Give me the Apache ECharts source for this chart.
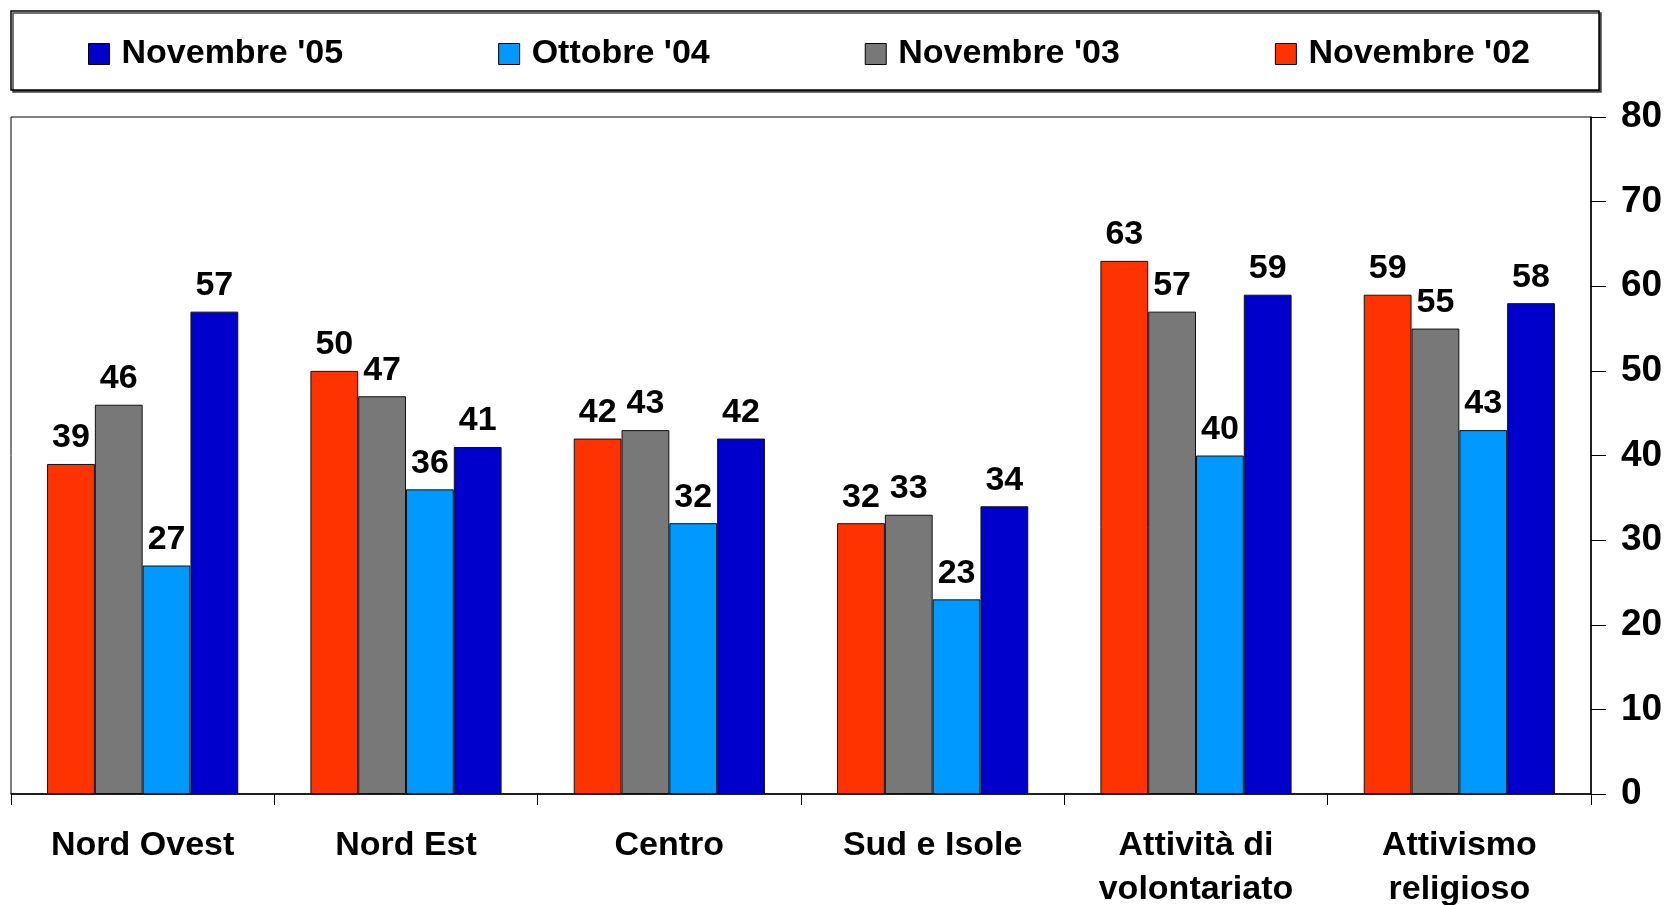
<!DOCTYPE html>
<html>
<head>
<meta charset="utf-8">
<script src="https://cdn.jsdelivr.net/npm/echarts@6/dist/echarts.min.js"></script>
<style>
    html,body{margin:0;padding:0;background:#fff;}
    #chart{width:1664px;height:905px;}
</style>
</head>
<body>
<div id="chart"></div>
<script>
// categorie
var categories = ['Nord Ovest','Nord Est','Centro','Sud e Isole','Attività di\nvolontariato','Attivismo\nreligioso'];
// serie
var nov02 = [39,50,42,32,63,59];
var nov03 = [46,47,43,33,57,55];
var ott04 = [27,36,32,23,40,43];
var nov05 = [57,41,42,34,59,58];
var legendArr = ["Novembre '05","Ottobre '04","Novembre '03","Novembre '02"];
var yTicks = [0,10,20,30,40,50,60,70,80];

var FONT = '"Liberation Sans", Arial, sans-serif';

var chart = echarts.init(document.getElementById('chart'));

function barSeries(name,data,color){
    return {
        name:name,
        type:'bar',
        data:data,
        barGap:0,
        barCategoryGap:'27.4%',
        itemStyle:{color:color,borderColor:'#111',borderWidth:1},
        label:{
            show:true,
            position:'top',
            distance:9,
            color:'#000',
            fontFamily:FONT,
            fontWeight:'bold',
            fontSize:34
        }
    }
}

var option = {
    animation:false,
    backgroundColor:'#fff',
    //legend box
    graphic:[{
        type:'rect',
        shape:{x:11,y:11,width:1588,height:79},
        style:{fill:'#fff',stroke:'#000',lineWidth:1.5,shadowColor:'#444',shadowOffsetX:2,shadowOffsetY:2,shadowBlur:0},
        z:-1
    }],
    legend:{
        data:legendArr,
        left:83,
        top:32,
        itemWidth:21,
        itemHeight:21,
        itemGap:155,
        icon:'rect',
        itemStyle:{borderColor:'#000',borderWidth:1},
        textStyle:{fontFamily:FONT,fontWeight:'bold',fontSize:34,color:'#000',padding:[0,0,0,7]}
    },
    grid:{
        left:11,
        right:73,
        top:117,
        bottom:111,
        show:true,
        borderColor:'#000',
        borderWidth:1,
        containLabel:false,
        outerBoundsMode:'none'
    },
    xAxis:{
        type:'category',
        data:categories,
        axisLine:{lineStyle:{color:'#000',width:1.5}},
        axisTick:{show:true,length:11,lineStyle:{color:'#000'},interval:0},
        axisLabel:{
            interval:0,
            margin:30,
            color:'#000',
            fontFamily:FONT,
            fontWeight:'bold',
            fontSize:34,
            lineHeight:44
        },
        splitLine:{show:false}
    },
    yAxis:{
        type:'value',
        position:'right',
        min:yTicks[0],
        max:yTicks[yTicks.length-1],
        interval:10,
        axisLine:{show:true,lineStyle:{color:'#000',width:1.5}},
        axisTick:{show:true,length:15,lineStyle:{color:'#000'}},
        axisLabel:{
            margin:30,
            color:'#000',
            fontFamily:FONT,
            fontWeight:'bold',
            fontSize:37
        },
        splitLine:{show:false}
    },
    series:[
        barSeries("Novembre '02",nov02,'#FF3300'),
        barSeries("Novembre '03",nov03,'#787878'),
        barSeries("Ottobre '04",ott04,'#0099FF'),
        barSeries("Novembre '05",nov05,'#0000CC')
    ]
};
chart.setOption(option);
</script>
</body>
</html>
